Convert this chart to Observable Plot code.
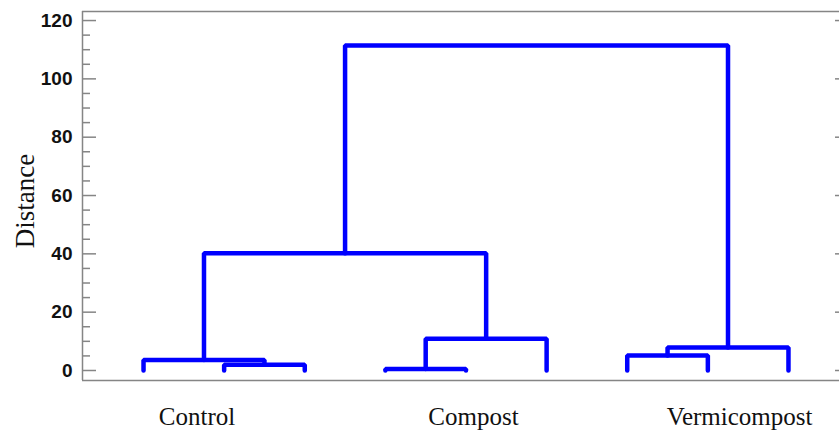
<!DOCTYPE html>
<html>
<head>
<meta charset="utf-8">
<script src="https://cdn.jsdelivr.net/npm/d3@7"></script>
<script src="https://cdn.jsdelivr.net/npm/@observablehq/plot@0.6"></script>
<style>
  html, body { margin: 0; padding: 0; background: #fff; }
</style>
</head>
<body>
<div id="chart"></div>
<script>
// Leaves in dendrogram order (positions 1..9)
const leaves = ["L1", "L2", "L3", "L4", "L5", "L6", "L7", "L8", "L9"];
// Agglomeration steps (children and merge distance)
const mergeLeft   = ["L2", "L1", "L4", "M3", "M2", "L7", "M6", "M5"];
const mergeRight  = ["L3", "M1", "L5", "L6", "M4", "L8", "L9", "M7"];
const mergeHeight = [2.0, 3.6, 0.5, 10.9, 40.2, 5.1, 7.9, 111.4];
// Group labels along the leaf axis
const groups = ["Control", "Compost", "Vermicompost"];
const groupX = [1.663, 5.093, 8.393];
// Y ticks
const majorTicks = [0, 20, 40, 60, 80, 100, 120];
const minorTicks = d3.range(5, 120, 5).filter(v => v % 20 !== 0);

// build dendrogram geometry from data
const pos = {};
const hgt = {};
leaves.forEach((id, i) => { pos[id] = i + 1; hgt[id] = 0; });
const links = [];
mergeHeight.forEach((h, i) => {
  const id = "M" + (i + 1);
  const a = mergeLeft[i], b = mergeRight[i];
  pos[id] = (pos[a] + pos[b]) / 2;
  hgt[id] = h;
  links.push({id, x: pos[a], y: hgt[a]});
  links.push({id, x: pos[a], y: h});
  links.push({id, x: pos[b], y: h});
  links.push({id, x: pos[b], y: hgt[b]});
});

const W = 839, H = 430, ML = 82;
const grey = "#858585";

const chart = Plot.plot({
  width: W,
  height: H,
  marginLeft: ML,
  marginRight: 0,
  marginTop: 11,
  marginBottom: 50,
  style: {background: "#fff", overflow: "visible"},
  x: {domain: [0.243, 9.757], range: [82, 849], axis: null},
  y: {domain: [-3.43, 123.1]},
  marks: [
    Plot.ruleX([0.243], {stroke: grey, strokeWidth: 1.5}),
    Plot.ruleY([-3.43, 123.1], {stroke: grey, strokeWidth: 1.5}),
    Plot.tickY(majorTicks, {y: d => d, stroke: grey, strokeWidth: 1.5, insetRight: W - ML - 14}),
    Plot.tickY(minorTicks, {y: d => d, stroke: grey, strokeWidth: 1.5, insetRight: W - ML - 8}),
    Plot.tickY(majorTicks, {y: d => d, stroke: grey, strokeWidth: 1.5, insetLeft: 835 - ML}),
    Plot.axisY(majorTicks, {
      anchor: "left", tickSize: 0, tickPadding: 10, label: null,
      fontSize: 19, fontWeight: "bold", fontFamily: "Liberation Sans, Arial, sans-serif",
      fill: "#111"
    }),
    Plot.line(links, {
      x: "x", y: "y", z: "id",
      stroke: "#0000ff", strokeWidth: 4.5,
      strokeLinejoin: "miter", strokeLinecap: "round", curve: "linear"
    }),
    Plot.text(groups, {
      x: (d, i) => groupX[i], frameAnchor: "bottom", dy: 44, lineAnchor: "bottom",
      text: d => d, fontSize: 25, fontFamily: "Liberation Serif, Times New Roman, serif",
      fill: "#111"
    }),
    Plot.text(["Distance"], {
      frameAnchor: "left", dx: -57, dy: 5, rotate: -90, text: d => d,
      textAnchor: "middle", lineAnchor: "middle",
      fontSize: 27, fontFamily: "Liberation Serif, Times New Roman, serif",
      fill: "#111"
    })
  ]
});
document.getElementById("chart").appendChild(chart);
</script>
</body>
</html>
